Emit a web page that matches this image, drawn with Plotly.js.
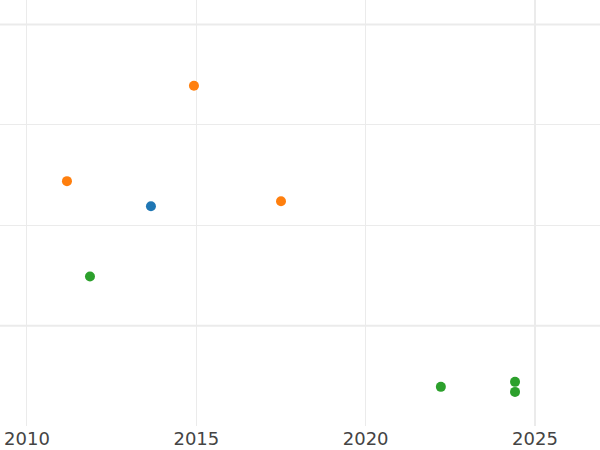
<!DOCTYPE html>
<html>
<head>
<meta charset="utf-8">
<script src="https://cdn.plot.ly/plotly-3.0.1.min.js"></script>
<style>html,body{margin:0;padding:0;background:#fff;}#chart{width:600px;height:450px;}</style>
</head>
<body>
<div id="chart"></div>
<script>
// Data
const blueX = [2013.66];
const blueY = [1.19];
const orangeX = [2014.93, 2011.18, 2017.50];
const orangeY = [2.39, 1.44, 1.24];
const greenX = [2011.86, 2022.22, 2024.41, 2024.41];
const greenY = [0.49, -0.61, -0.56, -0.66];
const xTickVals = [2010, 2015, 2020, 2025];
const xTickText = ['2010', '2015', '2020', '2025'];
const strongY = [0, 3];
const strongX = [2025];

const mk = (x, y, c) => ({
  type: 'scatter', mode: 'markers', x: x, y: y,
  marker: {color: c, size: 10}, showlegend: false, hoverinfo: 'skip'
});

const shapes = [];
strongY.forEach(v => shapes.push({type: 'line', xref: 'paper', yref: 'y', x0: 0, x1: 1, y0: v, y1: v,
  line: {color: '#ebebeb', width: 2}, layer: 'below'}));
strongX.forEach(v => shapes.push({type: 'line', xref: 'x', yref: 'paper', x0: v, x1: v, y0: 0, y1: 1,
  line: {color: '#ebebeb', width: 2}, layer: 'below'}));

Plotly.newPlot('chart', [
  mk(blueX, blueY, '#1f77b4'),
  mk(orangeX, orangeY, '#ff7f0e'),
  mk(greenX, greenY, '#2ca02c')
], {
  width: 600, height: 450,
  margin: {l: 0, r: 0, t: 0, b: 24},
  paper_bgcolor: '#ffffff', plot_bgcolor: '#ffffff',
  font: {family: 'DejaVu Sans', size: 18, color: '#444'},
  showlegend: false,
  shapes: shapes,
  xaxis: {range: [2009.203, 2026.919], tickvals: xTickVals, ticktext: xTickText,
    showgrid: true, gridcolor: '#ebebeb', gridwidth: 1, zeroline: false, showline: false,
    ticks: '', automargin: false, fixedrange: true},
  yaxis: {range: [-1.0, 3.245], dtick: 1, tick0: 0, showticklabels: false,
    showgrid: true, gridcolor: '#ebebeb', gridwidth: 1, zeroline: false, showline: false,
    ticks: '', automargin: false, fixedrange: true}
}, {displayModeBar: false, staticPlot: true});
</script>
</body>
</html>
